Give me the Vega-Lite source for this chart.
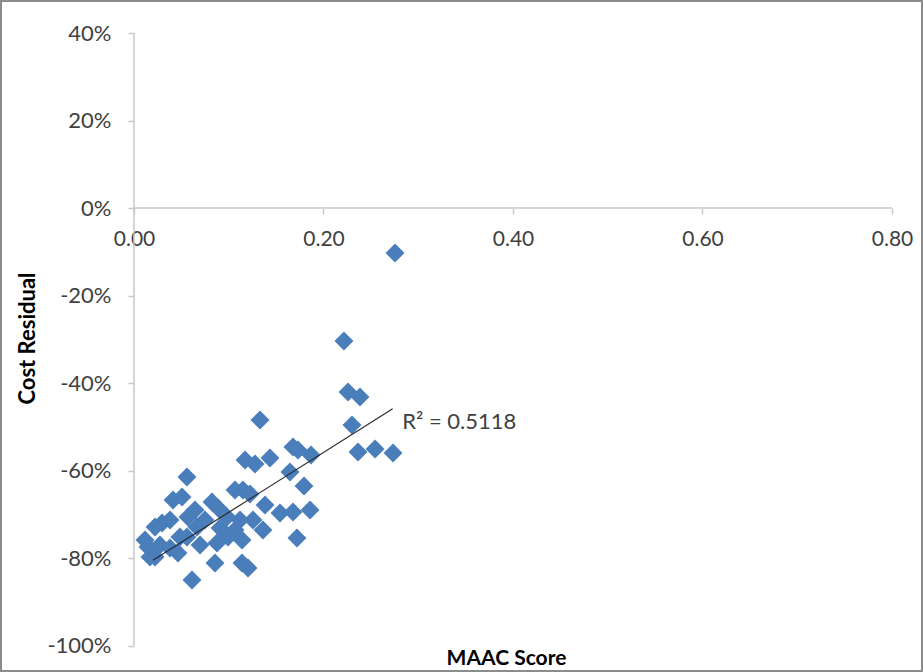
{
  "$schema": "https://vega.github.io/schema/vega-lite/v6.json",
  "width": 923,
  "height": 672,
  "autosize": "none",
  "padding": 0,
  "background": "white",
  "config": {
    "view": {"stroke": "#8c8c8c", "strokeWidth": 4},
    "font": "Lato"
  },
  "datasets": {
    "points": [
      {"maac": 0.2755, "residual": -0.1029},
      {"maac": 0.2216, "residual": -0.304},
      {"maac": 0.2259, "residual": -0.4206},
      {"maac": 0.2385, "residual": -0.432},
      {"maac": 0.2301, "residual": -0.496},
      {"maac": 0.2364, "residual": -0.5577},
      {"maac": 0.2544, "residual": -0.5509},
      {"maac": 0.2734, "residual": -0.56},
      {"maac": 0.133, "residual": -0.4846},
      {"maac": 0.1678, "residual": -0.5463},
      {"maac": 0.1731, "residual": -0.5531},
      {"maac": 0.1868, "residual": -0.5646},
      {"maac": 0.1435, "residual": -0.5714},
      {"maac": 0.1172, "residual": -0.576},
      {"maac": 0.1277, "residual": -0.5851},
      {"maac": 0.0559, "residual": -0.6149},
      {"maac": 0.1646, "residual": -0.6034},
      {"maac": 0.1794, "residual": -0.6354},
      {"maac": 0.1066, "residual": -0.6446},
      {"maac": 0.115, "residual": -0.6446},
      {"maac": 0.1224, "residual": -0.6537},
      {"maac": 0.0412, "residual": -0.6674},
      {"maac": 0.0507, "residual": -0.6606},
      {"maac": 0.0644, "residual": -0.6903},
      {"maac": 0.0823, "residual": -0.672},
      {"maac": 0.0887, "residual": -0.6857},
      {"maac": 0.1541, "residual": -0.6971},
      {"maac": 0.1678, "residual": -0.6949},
      {"maac": 0.1858, "residual": -0.6903},
      {"maac": 0.0222, "residual": -0.7291},
      {"maac": 0.0296, "residual": -0.72},
      {"maac": 0.057, "residual": -0.7063},
      {"maac": 0.0665, "residual": -0.7291},
      {"maac": 0.0982, "residual": -0.7063},
      {"maac": 0.1119, "residual": -0.7131},
      {"maac": 0.1256, "residual": -0.7131},
      {"maac": 0.1361, "residual": -0.736},
      {"maac": 0.172, "residual": -0.7543},
      {"maac": 0.0148, "residual": -0.7749},
      {"maac": 0.0222, "residual": -0.7977},
      {"maac": 0.0274, "residual": -0.7703},
      {"maac": 0.038, "residual": -0.7771},
      {"maac": 0.0464, "residual": -0.7886},
      {"maac": 0.0485, "residual": -0.752},
      {"maac": 0.0559, "residual": -0.752},
      {"maac": 0.0876, "residual": -0.7657},
      {"maac": 0.0992, "residual": -0.752},
      {"maac": 0.114, "residual": -0.7589},
      {"maac": 0.0855, "residual": -0.8114},
      {"maac": 0.114, "residual": -0.8114},
      {"maac": 0.1203, "residual": -0.8229},
      {"maac": 0.0612, "residual": -0.8503},
      {"maac": 0.0169, "residual": -0.7977},
      {"maac": 0.0749, "residual": -0.7131},
      {"maac": 0.0908, "residual": -0.7314},
      {"maac": 0.1066, "residual": -0.736},
      {"maac": 0.038, "residual": -0.7131},
      {"maac": 0.0116, "residual": -0.7589},
      {"maac": 0.0697, "residual": -0.7703},
      {"maac": 0.1383, "residual": -0.6789}
    ],
    "trend": [
      {"maac": 0.020, "residual": -0.805},
      {"maac": 0.273, "residual": -0.459}
    ]
  },
  "layer": [
    {
      "data": {"values": [{}]},
      "mark": {"type": "rule", "color": "#c8c8c8", "strokeWidth": 1.5},
      "encoding": {
        "x": {"datum": 0, "type": "quantitative"},
        "x2": {"datum": 0.8},
        "y": {"datum": 0, "type": "quantitative"}
      }
    },
    {
      "data": {"values": [{}]},
      "mark": {"type": "rule", "color": "#c8c8c8", "strokeWidth": 1.5},
      "encoding": {
        "x": {"datum": 0, "type": "quantitative"},
        "y": {"datum": -1, "type": "quantitative"},
        "y2": {"datum": 0.4}
      }
    },
    {
      "data": {"name": "points"},
      "mark": {"type": "point", "shape": "diamond", "filled": true, "size": 360, "color": "#4a7ebb", "opacity": 1},
      "encoding": {
        "x": {"field": "maac", "type": "quantitative", "scale": {"domain": [-0.14142, 0.83272], "nice": false, "zero": false}, "axis": {
          "orient": "bottom", "offset": -464, "domain": false, "values": [0, 0.2, 0.4, 0.6, 0.8], "format": ".2f",
          "tickSize": 6, "tickColor": "#c8c8c8", "tickWidth": 1.5, "grid": false,
          "labelFontSize": 21, "labelColor": "#404040", "labelPadding": 14, "labelFont": "Lato",
          "title": "MAAC Score", "titleFontSize": 21, "titleFontWeight": "bold", "titleColor": "#000000", "titleFont": "Lato",
          "titleX": 506, "titleY": 450, "titleBaseline": "middle"
        }},
        "y": {"field": "residual", "type": "quantitative", "scale": {"domain": [-1.06057, 0.47543], "nice": false, "zero": false}, "axis": {
          "orient": "left", "offset": -134, "domain": false, "values": [-1, -0.8, -0.6, -0.4, -0.2, 0, 0.2, 0.4], "format": ".0%",
          "labelExpr": "replace(datum.label, '\u2212', '-')",
          "tickSize": 6, "tickColor": "#c8c8c8", "tickWidth": 1.5, "grid": false,
          "labelFontSize": 22, "labelColor": "#404040", "labelPadding": 17, "labelFont": "Lato",
          "title": "Cost Residual", "titleFontSize": 22, "titleFontWeight": "bold", "titleColor": "#000000", "titleFont": "Lato",
          "titleX": -107, "titleY": 338, "titleAngle": -90, "titleBaseline": "middle"
        }}
      }
    },
    {
      "data": {"name": "trend"},
      "mark": {"type": "line", "color": "#2a2a2a", "strokeWidth": 1.2},
      "encoding": {
        "x": {"field": "maac", "type": "quantitative"},
        "y": {"field": "residual", "type": "quantitative"}
      }
    },
    {
      "data": {"values": [{}]},
      "mark": {"type": "text", "text": "R² = 0.5118", "align": "left", "baseline": "middle", "fontSize": 22, "font": "Lato", "color": "#404040"},
      "encoding": {
        "x": {"datum": 0.283, "type": "quantitative"},
        "y": {"datum": -0.489, "type": "quantitative"}
      }
    }
  ]
}
